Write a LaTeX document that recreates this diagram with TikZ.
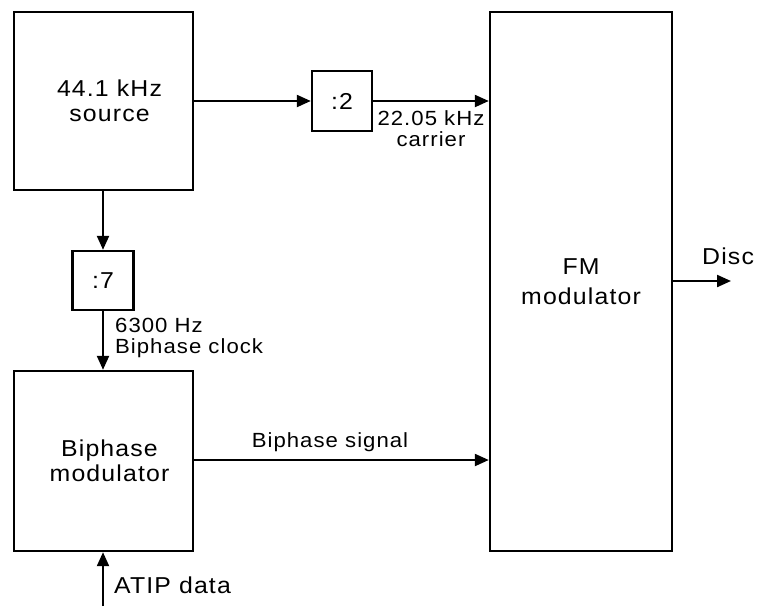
\documentclass[tikz,border=0pt]{standalone}
\usepackage{fontspec}
\setmainfont{Liberation Sans}[FakeStretch=1.08,LetterSpace=5]
\usetikzlibrary{arrows.meta}
\begin{document}
\begin{tikzpicture}[x=1pt,y=-1pt,
  blk/.style={draw,line width=2.4pt,rectangle,inner sep=0pt,align=center,
    font=\fontsize{23}{25}\selectfont},
  lbl/.style={inner sep=0pt,align=center,font=\fontsize{20.5}{21}\selectfont},
  big/.style={inner sep=0pt,font=\fontsize{23}{25}\selectfont},
  conn/.style={line width=2.2pt,-{Triangle[length=14pt,width=12pt]}}]
\useasboundingbox (0,0) rectangle (757,606);
\node[blk,minimum width=179pt,minimum height=178pt] (src) at (103.5,101) {\hspace*{12pt}44.1 kHz\\\hspace*{12pt}source};
\node[blk,minimum width=60pt,minimum height=60pt] (div2) at (342,101) {:2};
\node[blk,minimum width=182pt,minimum height=539pt,font=\fontsize{23}{30}\selectfont] (fm) at (581,281.5) {FM\\modulator};
\node[blk,minimum width=61pt,minimum height=59pt] (div7) at (103,280.5) {:7};
\node[blk,minimum width=179pt,minimum height=180pt] (bip) at (103.5,461) {\hspace*{12pt}Biphase\\\hspace*{12pt}modulator};
\coordinate (atip) at (103,606);
\coordinate (disc) at (731,281);
\draw[conn] (src.east |- div2.west) -- (div2.west);
\draw[conn] (div2.east) -- (fm.west |- div2.east);
\draw[conn] (src.south -| div7.north) -- (div7.north);
\draw[conn] (div7.south) -- (bip.north -| div7.south);
\draw[conn] (bip.east |- 0,460) -- (fm.west |- 0,460);
\draw[conn] (atip) -- (bip.south -| atip);
\draw[conn] (fm.east |- disc) -- (disc);
\node[lbl] (l1) at (431,129) {22.05 kHz\\carrier};
\node[lbl,align=left,anchor=west] (l2) at (115,338) {6300 Hz\\Biphase clock};
\node[lbl] (l3) at (330,442) {Biphase signal};
\node[big,anchor=west] (l4) at (114,585) {ATIP data};
\node[big,anchor=west] (l5) at (702,256) {Disc};
\end{tikzpicture}
\end{document}
